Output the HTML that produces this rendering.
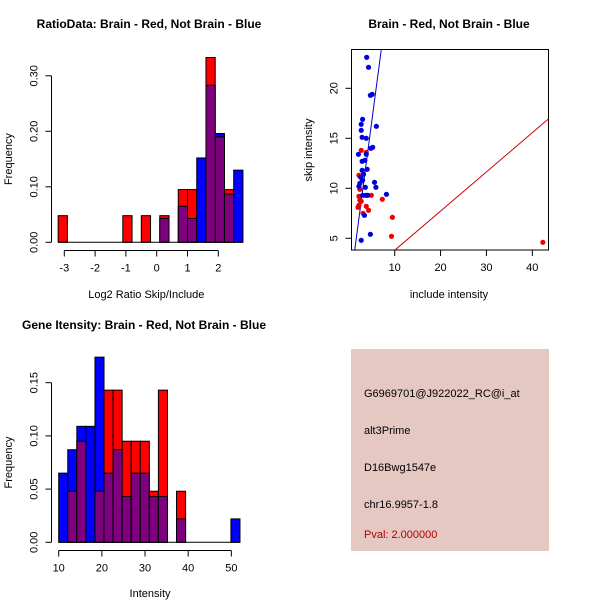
<!DOCTYPE html>
<html><head><meta charset="utf-8"><style>
body{margin:0;background:#fff}
svg{display:block;font-family:"Liberation Sans",sans-serif}
</style></head><body>
<svg id="s" width="600" height="600" viewBox="0 0 600 600">
<rect width="600" height="600" fill="#fff"/>
<text x="149" y="28" font-size="12" font-weight="bold" text-anchor="middle">RatioData: Brain - Red, Not Brain - Blue</text>
<text x="449" y="28" font-size="12" font-weight="bold" text-anchor="middle">Brain - Red, Not Brain - Blue</text>
<text x="144" y="329" font-size="12" font-weight="bold" text-anchor="middle">Gene Itensity: Brain - Red, Not Brain - Blue</text>
<g id="g1"></g>
<g id="g2"></g>
<g id="g3"></g>
<g>
<rect x="351" y="349" width="198" height="202" fill="#E6C8C2"/>
<text x="364" y="397" font-size="11">G6969701@J922022_RC@i_at</text>
<text x="364" y="434" font-size="11">alt3Prime</text>
<text x="364" y="471" font-size="11">D16Bwg1547e</text>
<text x="364" y="508" font-size="11">chr16.9957-1.8</text>
<text x="364" y="538" font-size="11" fill="#B00000">Pval: 2.000000</text>
</g>
</svg>
<script>
// Ratio histogram data (bin index, width 0.3 starting at -3.2)
const ratioRed  = [0.048,0,0,0,0,0,0,0.048,0,0.048,0,0.048,0,0.095,0.095,0,0.333,0.19,0.095,0];
const ratioBlue = [0,0,0,0,0,0,0,0,0,0,0,0.043,0,0.065,0.043,0.152,0.283,0.196,0.087,0.13];
const ratioXTicks = [-3,-2,-1,0,1,2];
const ratioYTicks = ["0.00","0.10","0.20","0.30"];
// Intensity histogram (bins width 2.1 from 10)
const intRed  = [0,0.048,0.095,0,0.048,0.143,0.143,0.095,0.095,0.095,0.048,0.143,0,0.048,0,0,0,0,0,0];
const intBlue = [0.065,0.087,0.109,0.109,0.174,0.065,0.087,0.043,0.065,0.065,0.043,0.043,0,0.022,0,0,0,0,0,0.022];
const intXTicks = [10,20,30,40,50];
const intYTicks = ["0.00","0.05","0.10","0.15"];
// Scatter data
const blueX = [3.9,4.3,4.7,5.1,3.0,2.7,6.0,2.7,2.9,3.8,5.2,4.8,3.8,2.1,3.5,2.9,4.0,2.9,3.2,2.6,3.0,2.4,5.6,3.6,5.9,2.2,3.0,3.7,4.1,8.2,3.4,4.7,2.7];
const blueY = [23.1,22.1,19.3,19.4,16.9,16.4,16.2,15.8,15.1,15.0,14.1,14.0,13.4,13.4,12.8,12.7,11.9,11.8,11.4,11.1,10.8,10.5,10.6,10.1,10.1,10.2,9.3,9.3,9.3,9.4,7.3,5.4,4.8];
const redX = [2.7,3.8,2.2,2.4,2.2,4.9,7.3,2.4,2.7,2.2,3.8,2.0,4.3,3.1,9.5,9.3,42.3];
const redY = [13.8,13.6,11.3,9.9,9.2,9.3,8.9,8.8,8.7,8.3,8.2,8.1,7.8,7.5,7.1,5.2,4.6];
const scXTicks = [10,20,30,40];
const scYTicks = [5,10,15,20];

const NS="http://www.w3.org/2000/svg";
function mk(p,t,a,txt){const e=document.createElementNS(NS,t);for(const k in a)e.setAttribute(k,a[k]);if(txt!==undefined)e.textContent=txt;p.appendChild(e);return e;}

function hist(g,red,blue,x0,bw,sx,sy,xt,yt,ytv,axY,xl,yAxisX,ylabX,xlabY){
  for(let i=0;i<red.length;i++){
    const r=red[i],b=blue[i];if(!r&&!b)continue;
    const xa=sx(x0+i*bw),xb=sx(x0+(i+1)*bw);
    const hi=Math.max(r,b),lo=Math.min(r,b);
    let e=mk(g,'rect',{x:xa,y:sy(hi),width:xb-xa,height:sy(0)-sy(hi),fill:r>=b?'#FF0000':'#0000FF',stroke:'#000','stroke-width':1});
    
    
    if(lo>0){e=mk(g,'rect',{x:xa,y:sy(lo),width:xb-xa,height:sy(0)-sy(lo),fill:'#7F007F',stroke:'#000','stroke-width':1});
    
    }
  }
  mk(g,'line',{x1:sx(x0),x2:sx(x0+red.length*bw),y1:sy(0),y2:sy(0),stroke:'#000'});
  mk(g,'line',{x1:sx(xt[0]),x2:sx(xt[xt.length-1]),y1:axY,y2:axY,stroke:'#000'});
  xt.forEach(v=>{mk(g,'line',{x1:sx(v),x2:sx(v),y1:axY,y2:axY+6,stroke:'#000'});
    const t=mk(g,'text',{x:sx(v),y:axY+21,'font-size':11,'text-anchor':'middle'},String(v));
    
    });
  mk(g,'line',{x1:yAxisX,x2:yAxisX,y1:sy(ytv[0]),y2:sy(ytv[ytv.length-1]),stroke:'#000'});
  ytv.forEach((v,i)=>{mk(g,'line',{x1:yAxisX,x2:yAxisX-6,y1:sy(v),y2:sy(v),stroke:'#000'});
    const t=mk(g,'text',{x:0,y:0,'font-size':11,'text-anchor':'middle',transform:`translate(${yAxisX-14},${sy(v)}) rotate(-90)`},yt[i]);
    
    });
  let t=mk(g,'text',{x:(sx(xt[0])+sx(xt[xt.length-1]))/2+5,y:xlabY,'font-size':11,'text-anchor':'middle'},xl);
  
  
  t=mk(g,'text',{x:0,y:0,'font-size':11,'text-anchor':'middle',transform:`translate(${ylabX},${sy((ytv[0]+ytv[ytv.length-1])/2)}) rotate(-90)`},'Frequency');
  
  
}
{const sx=v=>64.3+(v+3)*30.8, sy=v=>242.3-v*555;
 hist(document.getElementById('g1'),ratioRed,ratioBlue,-3.2,0.3,sx,sy,ratioXTicks,ratioYTicks,[0,0.1,0.2,0.3],250.5,'Log2 Ratio Skip/Include',51.5,12,298);}
{const sx=v=>58.7+(v-10)*4.316, sy=v=>542.3-v*1064;
 hist(document.getElementById('g3'),intRed,intBlue,10,2.1,sx,sy,intXTicks,intYTicks,[0,0.05,0.1,0.15],550.5,'Intensity',51.5,12,597);}
{const g=document.getElementById('g2');
 const sx=v=>394.7+(v-10)*4.587, sy=v=>238.3-(v-5)*10;
 mk(g,'rect',{x:351.5,y:49.5,width:197,height:200.5,fill:'none',stroke:'#000'});
 const cp=mk(g,'clipPath',{id:'cp'});mk(cp,'rect',{x:351.5,y:49.5,width:197,height:200.5});
 const ln=mk(g,'g',{'clip-path':'url(#cp)'});
 let e=mk(ln,'line',{x1:sx(1.28),y1:sy(3.8),x2:sx(7.08),y2:sy(23.9),stroke:'#0000CC'});
 
 
 e=mk(ln,'line',{x1:sx(10),y1:sy(3.8),x2:sx(43.5),y2:sy(16.93),stroke:'#CC0000'});
 
 
 redX.forEach((v,i)=>{const c=mk(g,'circle',{cx:sx(v),cy:sy(redY[i]),r:2.6,fill:'#EE0000'});
   
   });
 blueX.forEach((v,i)=>{const c=mk(g,'circle',{cx:sx(v),cy:sy(blueY[i]),r:2.6,fill:'#0000DD'});
   
   });
 scXTicks.forEach(v=>{mk(g,'line',{x1:sx(v),x2:sx(v),y1:250,y2:256,stroke:'#000'});
   const t=mk(g,'text',{x:sx(v),y:271,'font-size':11,'text-anchor':'middle'},String(v));
   
   });
 scYTicks.forEach(v=>{mk(g,'line',{x1:351.5,x2:345.5,y1:sy(v),y2:sy(v),stroke:'#000'});
   const t=mk(g,'text',{x:0,y:0,'font-size':11,'text-anchor':'middle',transform:`translate(337.5,${sy(v)}) rotate(-90)`},String(v));
   
   });
 let t=mk(g,'text',{x:449,y:298,'font-size':11,'text-anchor':'middle'},'include intensity');
 
 
 t=mk(g,'text',{x:0,y:0,'font-size':11,'text-anchor':'middle',transform:'translate(312,150) rotate(-90)'},'skip intensity');
 
 
}
</script>
</body></html>
